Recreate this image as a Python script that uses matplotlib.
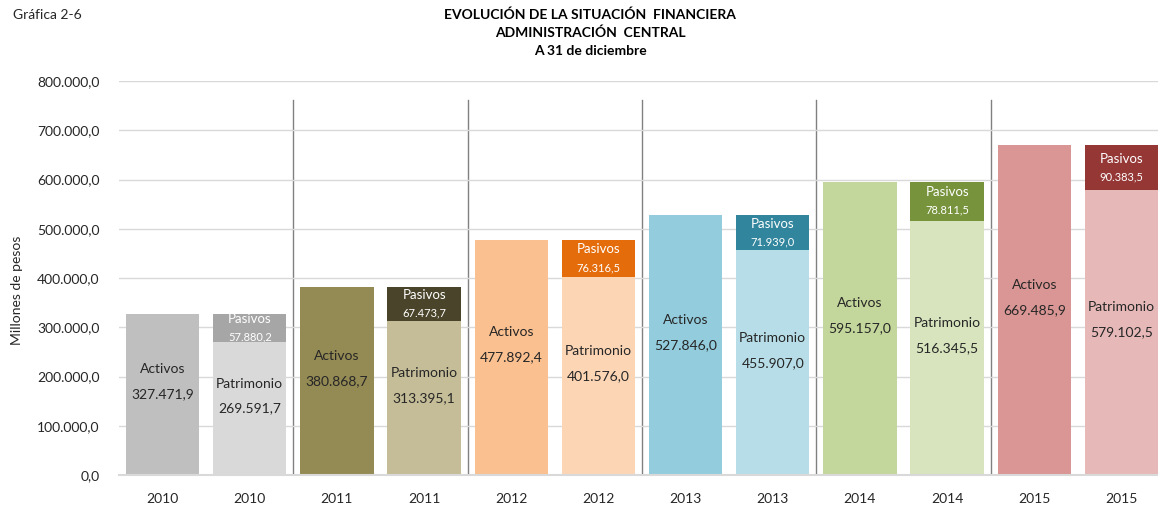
import numpy as np
import matplotlib.pyplot as plt

plt.rcParams['font.family'] = ['Lato', 'DejaVu Sans']

years = [2010, 2011, 2012, 2013, 2014, 2015]
activos = [327471.9, 380868.7, 477892.4, 527846.0, 595157.0, 669485.9]
patrimonio = [269591.7, 313395.1, 401576.0, 455907.0, 516345.5, 579102.5]
pasivos = [57880.2, 67473.7, 76316.5, 71939.0, 78811.5, 90383.5]

col_act = ['#BFBFBF', '#948A54', '#FAC090', '#93CDDD', '#C3D69B', '#D99694']
col_pat = ['#D9D9D9', '#C4BD97', '#FCD5B5', '#B7DEE8', '#D7E4BD', '#E6B9B8']
col_pas = ['#A6A6A6', '#4A452A', '#E46C0A', '#31859C', '#77933C', '#953735']


def fmt(v):
    return f"{v:,.1f}".replace(',', 'X').replace('.', ',').replace('X', '.')


fig = plt.figure(figsize=(11.58, 5.07), dpi=100)
ax = fig.add_axes([119 / 1158, 32 / 507, 1046 / 1158, 394 / 507])

w = 0.84
xa = np.arange(len(years)) * 2
xp = xa + 1
txt = '#262626'
for i in range(len(years)):
    ax.bar(xa[i], activos[i], width=w, color=col_act[i], zorder=2)
    ax.bar(xp[i], patrimonio[i], width=w, color=col_pat[i], zorder=2)
    ax.bar(xp[i], pasivos[i], bottom=patrimonio[i], width=w, color=col_pas[i], zorder=2)

    ya = activos[i] / 2
    ax.annotate('Activos', (xa[i], ya), xytext=(0, 18), textcoords='offset points',
                ha='center', va='center', fontsize=10, color=txt, zorder=3)
    ax.annotate(fmt(activos[i]), (xa[i], ya), xytext=(0, 0), textcoords='offset points',
                ha='center', va='center', fontsize=10, color=txt, zorder=3)
    yp = patrimonio[i] / 2
    ax.annotate('Patrimonio', (xp[i], yp), xytext=(0, 18), textcoords='offset points',
                ha='center', va='center', fontsize=10, color=txt, zorder=3)
    ax.annotate(fmt(patrimonio[i]), (xp[i], yp), xytext=(0, 0), textcoords='offset points',
                ha='center', va='center', fontsize=10, color=txt, zorder=3)
    ys = patrimonio[i] + pasivos[i] / 2
    ax.annotate('Pasivos', (xp[i], ys), xytext=(0, 6.5), textcoords='offset points',
                ha='center', va='center', fontsize=9.5, color='white', zorder=3)
    ax.annotate(fmt(pasivos[i]), (xp[i], ys), xytext=(0, -6.5), textcoords='offset points',
                ha='center', va='center', fontsize=8, color='white', zorder=3)

# separators between years
for i in range(1, len(years)):
    ax.axvline(xa[i] - 0.5, ymax=0.952, color='#808080', lw=1, zorder=1)

ax.set_xlim(-0.5, len(years) * 2 - 0.5)
ax.set_ylim(0, 800000)
ax.set_yticks(np.arange(0, 800001, 100000))
ax.set_yticklabels([fmt(v) for v in np.arange(0, 800001, 100000)], fontsize=10, color=txt)
ax.set_xticks(np.concatenate([xa, xp]))
ax.set_xticklabels([str(y) for y in years] * 2, fontsize=10, color=txt)
ax.tick_params(length=0, pad=13)
ax.tick_params(axis='y', pad=14)
ax.grid(axis='y', color='#D9D9D9', lw=1, zorder=0)
for s in ['top', 'right', 'left']:
    ax.spines[s].set_visible(False)
ax.spines['bottom'].set_color('#D9D9D9')
ax.spines['bottom'].set_linewidth(1.5)

fig.text(13 / 1158, 1 - 15 / 507, 'Gráfica 2-6', fontsize=10, va='center', ha='left', color=txt)
fig.text(590 / 1158, 1 - 15 / 507, 'EVOLUCIÓN DE LA SITUACIÓN  FINANCIERA', fontsize=10,
         fontweight='bold', ha='center', va='center')
fig.text(590 / 1158, 1 - 33 / 507, 'ADMINISTRACIÓN  CENTRAL', fontsize=10,
         fontweight='bold', ha='center', va='center')
fig.text(590 / 1158, 1 - 51 / 507, 'A 31 de diciembre', fontsize=10,
         fontweight='bold', ha='center', va='center')
fig.text(17 / 1158, 1 - 290 / 507, 'Millones de pesos', fontsize=10, rotation=90,
         ha='center', va='center', color=txt)

fig.savefig('out.png', dpi=100)
